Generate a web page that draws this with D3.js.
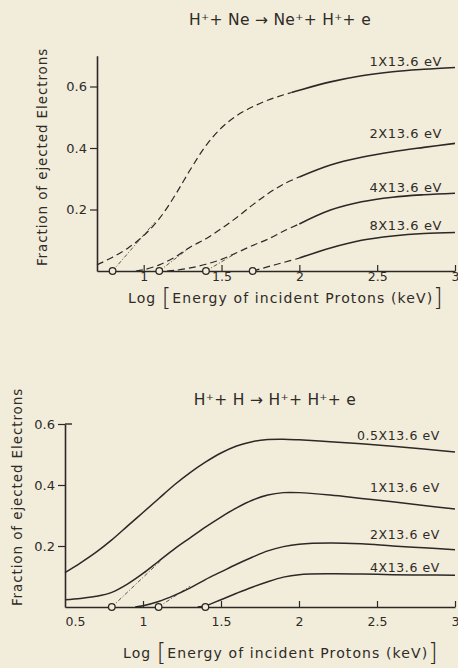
<!DOCTYPE html>
<html>
<head>
<meta charset="utf-8">
<script src="https://cdn.jsdelivr.net/npm/d3@7"></script>
<style>
  html, body { margin: 0; padding: 0; background: #f2ecdb; }
  svg { display: block; }
  .lbl { font-family: "DejaVu Sans", sans-serif; fill: #2e2b27; }
</style>
</head>
<body>
<script>
// ---- top chart: H+ + Ne -> Ne+ + H+ + e
const neNames = ["1X13.6 eV", "2X13.6 eV", "4X13.6 eV", "8X13.6 eV"];
const neX1 = [0.70, 0.80, 0.90, 1.00, 1.10, 1.20, 1.30, 1.40, 1.50, 1.60, 1.70, 1.80, 1.90, 2.00, 2.20, 2.40, 2.60, 2.80, 3.00];
const neY1 = [0.020, 0.045, 0.075, 0.115, 0.170, 0.245, 0.330, 0.408, 0.466, 0.506, 0.534, 0.556, 0.573, 0.588, 0.615, 0.635, 0.648, 0.656, 0.662];
const neX2 = [0.95, 1.00, 1.10, 1.20, 1.30, 1.40, 1.50, 1.60, 1.70, 1.80, 1.90, 2.00, 2.20, 2.40, 2.60, 2.80, 3.00];
const neY2 = [0.000, 0.004, 0.020, 0.045, 0.078, 0.105, 0.138, 0.175, 0.215, 0.252, 0.283, 0.306, 0.345, 0.370, 0.388, 0.402, 0.415];
const neX4 = [1.15, 1.20, 1.30, 1.40, 1.50, 1.60, 1.70, 1.80, 1.90, 2.00, 2.20, 2.40, 2.60, 2.80, 3.00];
const neY4 = [0.000, 0.002, 0.010, 0.022, 0.038, 0.060, 0.083, 0.104, 0.130, 0.153, 0.198, 0.225, 0.240, 0.248, 0.253];
const neX8 = [1.70, 1.80, 1.90, 2.00, 2.20, 2.40, 2.60, 2.80, 3.00];
const neY8 = [0.000, 0.014, 0.028, 0.042, 0.075, 0.100, 0.114, 0.122, 0.125];
const neSolidFrom = [1.95, 2.00, 2.00, 2.00];
const neThresh = [0.80, 1.10, 1.40, 1.70];
// straight construction lines from thresholds: [x0, y0, x1, y1]
const neTangents = [[0.80, 0, 1.07, 0.158], [1.10, 0, 1.30, 0.078], [1.40, 0, 1.60, 0.060]];

// ---- bottom chart: H+ + H -> H+ + H+ + e
const hNames = ["0.5X13.6 eV", "1X13.6 eV", "2X13.6 eV", "4X13.6 eV"];
const hX05 = [0.50, 0.60, 0.70, 0.80, 0.90, 1.00, 1.10, 1.20, 1.30, 1.40, 1.50, 1.60, 1.70, 1.80, 1.90, 2.00, 2.20, 2.40, 2.60, 2.80, 3.00];
const hY05 = [0.113, 0.145, 0.180, 0.220, 0.265, 0.310, 0.355, 0.400, 0.440, 0.475, 0.505, 0.528, 0.542, 0.549, 0.550, 0.548, 0.542, 0.535, 0.527, 0.518, 0.508];
const hX1 = [0.50, 0.60, 0.70, 0.80, 0.90, 1.00, 1.10, 1.20, 1.30, 1.40, 1.50, 1.60, 1.70, 1.80, 1.90, 2.00, 2.20, 2.40, 2.60, 2.80, 3.00];
const hY1 = [0.024, 0.028, 0.035, 0.048, 0.075, 0.110, 0.150, 0.190, 0.226, 0.262, 0.295, 0.325, 0.350, 0.367, 0.375, 0.375, 0.367, 0.356, 0.345, 0.333, 0.321];
const hX2 = [0.95, 1.00, 1.10, 1.20, 1.30, 1.40, 1.50, 1.60, 1.70, 1.80, 1.90, 2.00, 2.20, 2.40, 2.60, 2.80, 3.00];
const hY2 = [0.000, 0.004, 0.018, 0.038, 0.062, 0.090, 0.115, 0.140, 0.163, 0.184, 0.198, 0.206, 0.210, 0.207, 0.200, 0.194, 0.188];
const hX4 = [1.35, 1.40, 1.50, 1.60, 1.70, 1.80, 1.90, 2.00, 2.20, 2.40, 2.60, 2.80, 3.00];
const hY4 = [0.000, 0.004, 0.024, 0.045, 0.065, 0.083, 0.098, 0.106, 0.109, 0.108, 0.106, 0.105, 0.104];
const hThresh = [0.80, 1.10, 1.40];
const hTangents = [[0.80, 0, 1.12, 0.155], [1.10, 0, 1.30, 0.068]];

const xTicks = [1, 1.5, 2, 2.5, 3];
const xTicksH = [0.5, 1, 1.5, 2, 2.5, 3];
const yTicks = [0.2, 0.4, 0.6];

const W = 458, H = 668;
const svg = d3.select("body").append("svg").attr("width", W).attr("height", H);
const ink = "#2b2825";
const paper = "#f2ecdb";

function series(xs, ys) { return xs.map((x, i) => [x, ys[i]]); }

function drawChart(o) {
  const g = svg.append("g");
  const x = d3.scaleLinear().domain(o.xDomain).range(o.xRange);
  const y = d3.scaleLinear().domain(o.yDomain).range(o.yRange);
  const line = d3.line().x(d => x(d[0])).y(d => y(d[1])).curve(d3.curveCatmullRom.alpha(0.5));

  // construction lines
  g.selectAll(".tan").data(o.tangents).join("line")
    .attr("x1", d => x(d[0])).attr("y1", d => y(d[1]))
    .attr("x2", d => x(d[2])).attr("y2", d => y(d[3]))
    .attr("stroke", ink).attr("stroke-width", 0.9)
    .attr("stroke-dasharray", "4,2,1,2").attr("opacity", 0.85);

  // curves: dashed part then solid part
  o.curves.forEach((c, i) => {
    const sf = o.solidFrom ? o.solidFrom[i] : null;
    if (sf !== null) {
      const dashed = c.filter(p => p[0] <= sf);
      const solid = c.filter(p => p[0] >= sf);
      const k = c.findIndex(p => p[0] >= sf);
      if (c[k][0] > sf && k > 0) {
        const a = c[k - 1], b = c[k];
        const t = (sf - a[0]) / (b[0] - a[0]);
        const jp = [sf, a[1] + t * (b[1] - a[1])];
        dashed.push(jp); solid.unshift(jp);
      }
      g.append("path").attr("d", line(dashed)).attr("fill", "none")
        .attr("stroke", ink).attr("stroke-width", 1.2).attr("stroke-dasharray", "7,4");
      g.append("path").attr("d", line(solid)).attr("fill", "none")
        .attr("stroke", ink).attr("stroke-width", 1.6);
    } else {
      g.append("path").attr("d", line(c)).attr("fill", "none")
        .attr("stroke", ink).attr("stroke-width", 1.5);
    }
  });

  // x axis, ticks pointing up
  const xa = g.append("g").attr("transform", `translate(0,${y(0)})`)
    .call(d3.axisBottom(x).tickValues(o.xTicks).tickSizeInner(-6).tickSizeOuter(0)
      .tickPadding(o.xPad).tickFormat(d => String(d)));
  xa.select(".domain").attr("stroke", ink).attr("stroke-width", 1.6);
  xa.selectAll(".tick line").attr("stroke", ink).attr("stroke-width", 1.2)
    .attr("display", d => d === o.xDomain[0] ? "none" : null);
  xa.selectAll(".tick text").attr("class", "lbl").attr("font-size", 12.5).attr("fill", ink)
    .attr("dx", d => d === o.xDomain[0] ? 10 : 0);

  // y axis
  const ya = g.append("g").attr("transform", `translate(${x(o.xDomain[0])},0)`)
    .call(d3.axisLeft(y).tickValues(yTicks).tickSize(7).tickSizeOuter(0).tickPadding(3)
      .tickFormat(d3.format(".1f")));
  ya.select(".domain").attr("stroke", ink).attr("stroke-width", 1.6);
  ya.selectAll(".tick line").attr("stroke", ink).attr("stroke-width", 1.2);
  ya.selectAll(".tick text").attr("class", "lbl").attr("font-size", 13).attr("fill", ink);
  if (o.topTick) {
    g.append("line").attr("x1", x(o.xDomain[0])).attr("x2", x(o.xDomain[0]) + 7)
      .attr("y1", y(o.yDomain[1])).attr("y2", y(o.yDomain[1]))
      .attr("stroke", ink).attr("stroke-width", 1.4);
  }

  // threshold circles
  g.selectAll(".th").data(o.thresh).join("circle")
    .attr("cx", d => x(d)).attr("cy", y(0)).attr("r", 3.3)
    .attr("fill", paper).attr("stroke", ink).attr("stroke-width", 1.3);

  // curve labels
  g.selectAll(".cl").data(o.names).join("text")
    .attr("class", "lbl").attr("font-size", o.labelSize).attr("text-anchor", "end")
    .attr("letter-spacing", 0.6)
    .attr("x", o.labelRight).attr("y", (d, i) => y(o.labelAt[i]))
    .text(d => d);

  // title
  g.append("text").attr("class", "lbl").attr("font-size", 15.5).attr("text-anchor", "middle")
    .attr("x", o.title[0]).attr("y", o.title[1]).attr("letter-spacing", 0.3).text(o.title[2]);

  // y title
  g.append("text").attr("class", "lbl").attr("font-size", 13.5).attr("text-anchor", "middle")
    .attr("letter-spacing", 0.9)
    .attr("transform", `translate(${o.yTitle[0]},${o.yTitle[1]}) rotate(-90)`)
    .text("Fraction of ejected Electrons");

  // x title with tall brackets
  const xt = g.append("text").attr("class", "lbl").attr("font-size", 14)
    .attr("x", o.xTitle[0]).attr("y", o.xTitle[1]).attr("letter-spacing", 1.1);
  xt.append("tspan").text("Log ");
  xt.append("tspan").attr("font-size", 24).attr("font-weight", 200).attr("dy", 3).text("[");
  xt.append("tspan").attr("dy", -3).text("Energy  of  incident  Protons (keV)");
  xt.append("tspan").attr("font-size", 24).attr("font-weight", 200).attr("dy", 3).text("]");
}

drawChart({
  xDomain: [0.7, 3], xRange: [97, 455],
  yDomain: [0, 0.7], yRange: [271, 55.75],
  curves: [series(neX1, neY1), series(neX2, neY2), series(neX4, neY4), series(neX8, neY8)],
  solidFrom: neSolidFrom,
  tangents: neTangents,
  thresh: neThresh,
  xTicks: xTicks, xPad: 1,
  names: neNames, labelRight: 442, labelAt: [0.666, 0.433, 0.258, 0.134], labelSize: 13,
  title: [280, 25, "H\u207A+ Ne \u2192 Ne\u207A+ H\u207A+ e"],
  yTitle: [47, 157],
  xTitle: [128, 303],
  topTick: false
});

drawChart({
  xDomain: [0.5, 3], xRange: [65, 455],
  yDomain: [0, 0.6], yRange: [607, 424],
  curves: [series(hX05, hY05), series(hX1, hY1), series(hX2, hY2), series(hX4, hY4)],
  solidFrom: null,
  tangents: hTangents,
  thresh: hThresh,
  xTicks: xTicksH, xPad: 10,
  names: hNames, labelRight: 440, labelAt: [0.548, 0.376, 0.222, 0.115], labelSize: 12.5,
  title: [275, 405, "H\u207A+ H \u2192 H\u207A+ H\u207A+ e"],
  yTitle: [22, 497],
  xTitle: [123, 658],
  topTick: true
});
</script>
</body>
</html>
